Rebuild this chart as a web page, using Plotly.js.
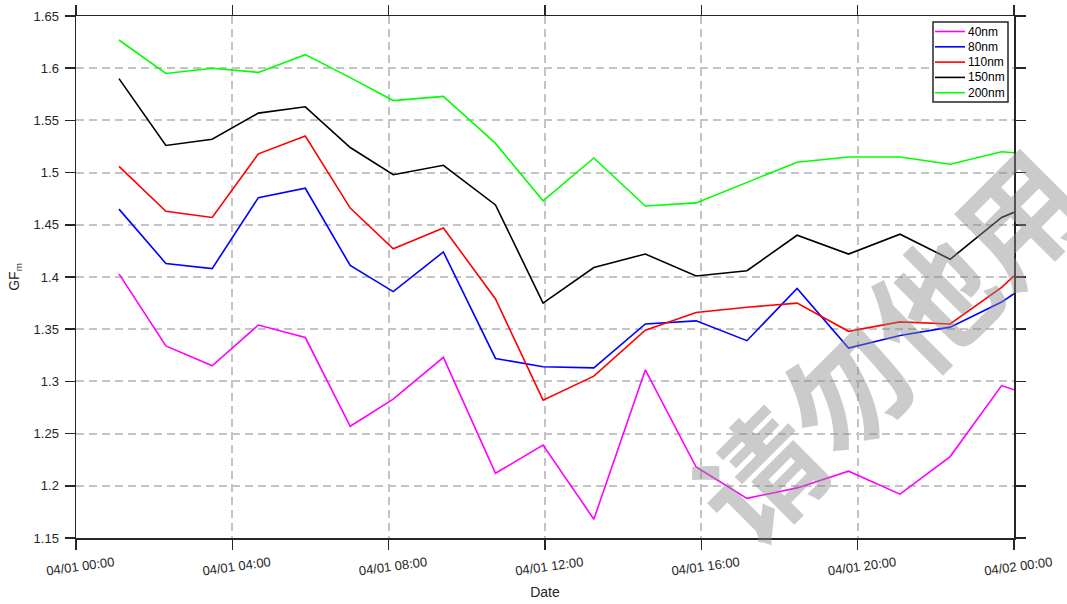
<!DOCTYPE html>
<html>
<head>
<meta charset="utf-8">
<script src="https://cdn.plot.ly/plotly-3.0.1.min.js"></script>
<style>html,body{margin:0;padding:0;background:#fff;}#chart{width:1067px;height:604px;}</style>
</head>
<body>
<div id="chart"></div>
<script>
// sample times (2023-04-01 .. 2023-04-02)
const times = ["2023-04-01 01:06","2023-04-01 02:18","2023-04-01 03:29","2023-04-01 04:40","2023-04-01 05:52",
  "2023-04-01 07:01","2023-04-01 08:07","2023-04-01 09:24","2023-04-01 10:44","2023-04-01 11:57",
  "2023-04-01 13:15","2023-04-01 14:34","2023-04-01 15:52","2023-04-01 17:10","2023-04-01 18:27",
  "2023-04-01 19:46","2023-04-01 21:05","2023-04-01 22:22","2023-04-01 23:41","2023-04-02 00:00"];

const gf40  = [1.403,1.334,1.315,1.354,1.342,1.257,1.283,1.323,1.212,1.239,1.168,1.311,1.218,1.188,1.198,1.214,1.192,1.228,1.296,1.292];
const gf80  = [1.465,1.413,1.408,1.476,1.485,1.411,1.386,1.424,1.322,1.314,1.313,1.355,1.358,1.339,1.389,1.332,1.344,1.352,1.376,1.384];
const gf110 = [1.506,1.463,1.457,1.518,1.535,1.466,1.427,1.447,1.379,1.282,1.305,1.349,1.366,1.371,1.375,1.348,1.357,1.355,1.390,1.401];
const gf150 = [1.590,1.526,1.532,1.557,1.563,1.524,1.498,1.507,1.469,1.375,1.409,1.422,1.401,1.406,1.440,1.422,1.441,1.417,1.457,1.462];
const gf200 = [1.627,1.595,1.600,1.596,1.613,1.591,1.569,1.573,1.528,1.473,1.514,1.468,1.471,1.491,1.510,1.515,1.515,1.508,1.520,1.519];

const seriesNames = ["40nm","80nm","110nm","150nm","200nm"];
const seriesColors = ["#ff00ff","#0000ff","#ff0000","#000000","#00ff00"];
const seriesValues = [gf40, gf80, gf110, gf150, gf200];

const xTickVals = ["2023-04-01 00:00","2023-04-01 04:00","2023-04-01 08:00","2023-04-01 12:00","2023-04-01 16:00","2023-04-01 20:00","2023-04-02 00:00"];
const xTickText = ["04/01 00:00","04/01 04:00","04/01 08:00","04/01 12:00","04/01 16:00","04/01 20:00","04/02 00:00"];
const yTickVals = [1.15,1.2,1.25,1.3,1.35,1.4,1.45,1.5,1.55,1.6,1.65];
const yTickText = ["1.15","1.2","1.25","1.3","1.35","1.4","1.45","1.5","1.55","1.6","1.65"];

const FONT = "Liberation Sans, Arial, Helvetica, sans-serif";
const AX = "#262626";
const W = 1067, H = 604;
const M = {l: 76, r: 53, t: 16, b: 66};
const PW = W - M.l - M.r, PH = H - M.t - M.b;
const px2x = p => (p - M.l) / PW;
const px2y = p => 1 - (p - M.t) / PH;

const traces = seriesNames.map((n, i) => ({
  type: "scatter", mode: "lines", name: n,
  x: times, y: seriesValues[i],
  line: {color: seriesColors[i], width: 1.6}
}));

const axisCommon = {
  showline: true, linecolor: AX, linewidth: 1.5, mirror: "ticks",
  ticks: "outside", ticklen: 10, tickwidth: 1.5, tickcolor: AX,
  showgrid: true, gridcolor: "#c4c4c4", gridwidth: 2, griddash: "8px,5px",
  zeroline: false, tickfont: {family: FONT, size: 13, color: AX}
};

// custom legend (box, line samples, labels) placed in the upper right corner
const legBox = {x0: 933, x1: 1008, y0: 22, y1: 102};
const legRow0 = 31.5, legStep = 15.3;
const shapes = [{
  type: "rect", xref: "paper", yref: "paper",
  x0: px2x(legBox.x0), x1: px2x(legBox.x1), y0: px2y(legBox.y1), y1: px2y(legBox.y0),
  line: {color: AX, width: 1.5}, fillcolor: "#fff", layer: "above"
}];
const annotations = [];
seriesNames.forEach((n, i) => {
  const yy = px2y(legRow0 + i * legStep);
  shapes.push({type: "line", xref: "paper", yref: "paper", x0: px2x(935), x1: px2x(965), y0: yy, y1: yy,
    line: {color: seriesColors[i], width: 1.6}, layer: "above"});
  annotations.push({text: n, xref: "paper", yref: "paper", x: px2x(965.5), y: yy, xanchor: "left", yanchor: "middle",
    showarrow: false, font: {family: FONT, size: 12, color: "#000"}});
});
annotations.push({
  text: "请勿他用", xref: "paper", yref: "paper", x: px2x(885), y: px2y(342),
  xanchor: "center", yanchor: "middle",
  showarrow: false, textangle: -45,
  font: {family: "Noto Sans CJK SC", size: 122, color: "rgba(140,140,140,0.45)", weight: 700}
});

const layout = {
  width: W, height: H,
  margin: M,
  paper_bgcolor: "#fff", plot_bgcolor: "#fff",
  showlegend: false,
  font: {family: FONT, color: AX},
  xaxis: Object.assign({}, axisCommon, {
    type: "date", range: ["2023-04-01 00:00","2023-04-02 00:00"],
    tickmode: "array", tickvals: xTickVals, ticktext: xTickText,
    tickangle: -8, ticklabelshift: 38, ticklabelstandoff: 1,
    title: {text: "Date", font: {family: FONT, size: 14, color: AX}, standoff: 9}
  }),
  yaxis: Object.assign({}, axisCommon, {
    range: [1.15, 1.65], tickmode: "array", tickvals: yTickVals, ticktext: yTickText,
    ticklabelstandoff: 3,
    title: {text: "GF<sub>m</sub>", font: {family: FONT, size: 14, color: AX}, standoff: 10}
  }),
  shapes: shapes,
  annotations: annotations
};

Plotly.newPlot("chart", traces, layout, {displayModeBar: false, staticPlot: true});
</script>
</body>
</html>
